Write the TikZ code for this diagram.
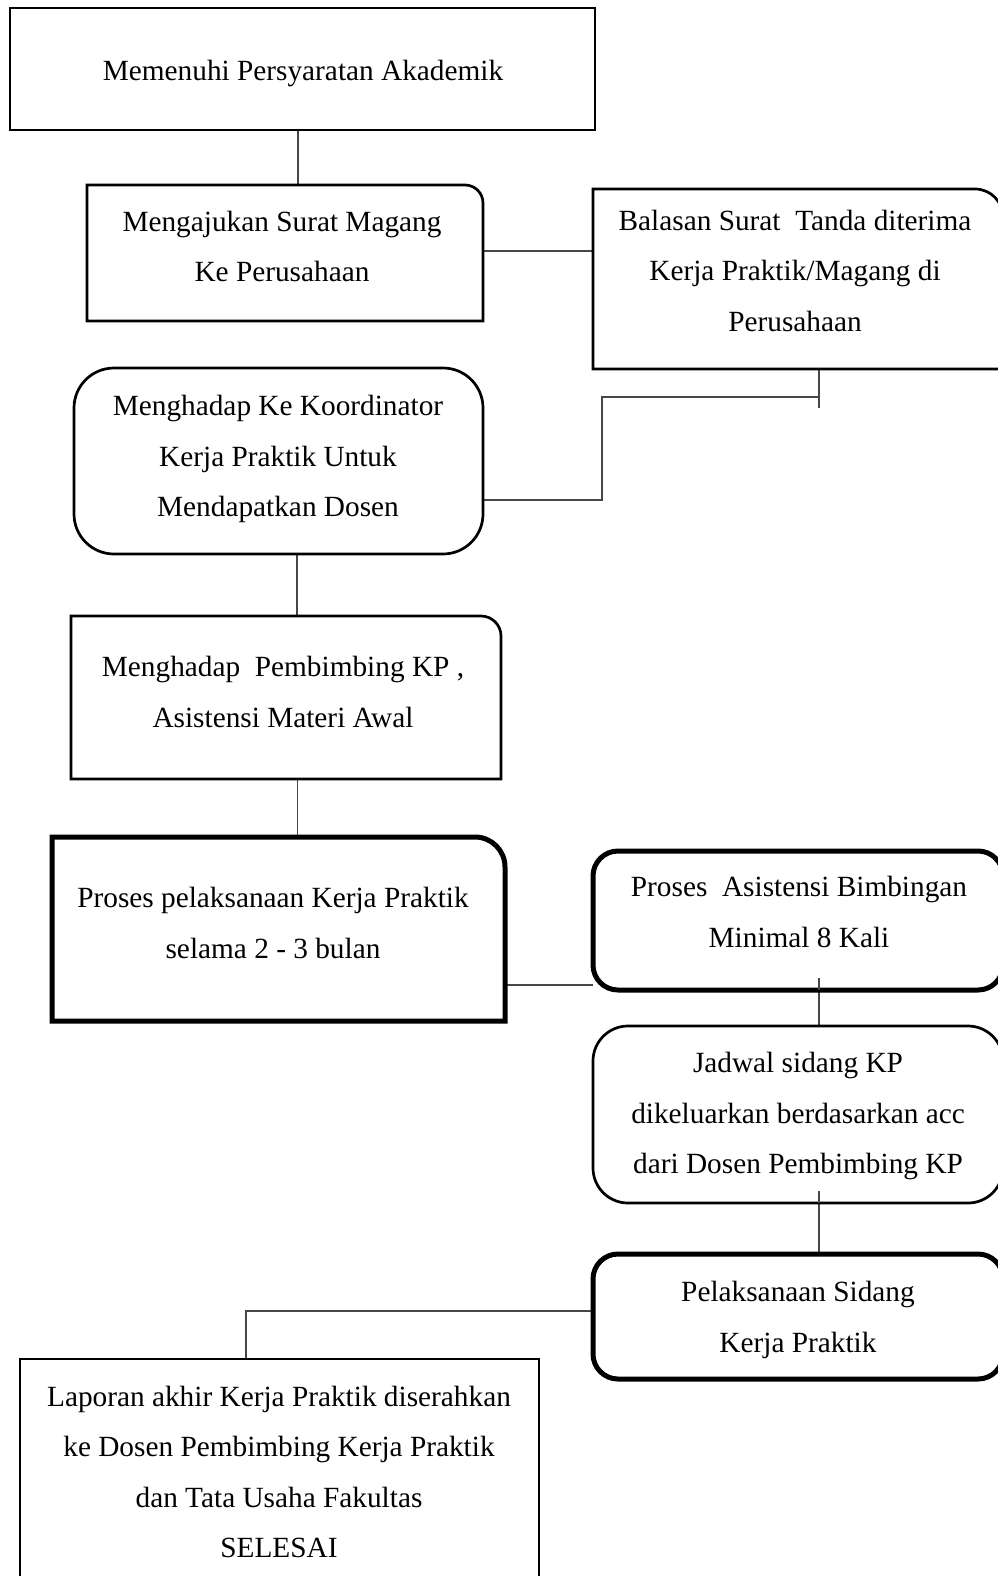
\documentclass[tikz,border=0pt]{standalone}
\usepackage{fontspec}
\setmainfont{Liberation Serif}
\usetikzlibrary{calc}
\begin{document}
\begin{tikzpicture}[x=1pt,y=-1pt,
  boxnode/.style={draw=none,rectangle,inner sep=0pt,outer sep=0pt},
  thinline/.style={line width=2.7pt,black,line join=miter},
  thickline/.style={line width=5pt,black,line join=miter},
  conn/.style={line width=1.6pt,black!72},
  txt/.style={inner sep=0pt,align=center,font=\fontsize{29.3}{50.5}\selectfont}]
\useasboundingbox (0,0) rectangle (998,1576);
\newcommand\TRbox[3]{\draw[#3] (#1.south west) -- (#1.north west) -- ([xshift=-#2pt]#1.north east) arc[start angle=90,end angle=0,radius=#2pt] -- (#1.south east) -- cycle;}
% boxes
\node[boxnode,minimum width=585pt,minimum height=122pt] (b1) at (302.5,69) {};
\node[boxnode,minimum width=396pt,minimum height=136pt] (b2) at (285,253) {};
\node[boxnode,minimum width=410pt,minimum height=180pt] (b3) at (798,279) {};
\node[boxnode,minimum width=409pt,minimum height=186pt] (b4) at (278.5,461) {};
\node[boxnode,minimum width=430pt,minimum height=163pt] (b5) at (286,697.5) {};
\node[boxnode,minimum width=453pt,minimum height=184pt] (b6) at (278.5,929) {};
\node[boxnode,minimum width=410pt,minimum height=139pt] (b7) at (798,920.5) {};
\node[boxnode,minimum width=410pt,minimum height=177pt] (b8) at (798,1114.5) {};
\node[boxnode,minimum width=410pt,minimum height=125pt] (b9) at (798,1316.5) {};
\node[boxnode,minimum width=519pt,minimum height=241pt] (b10) at (279.5,1479.5) {};
% connectors
\draw[conn] ([xshift=-4.5pt]b1.south) -- ([xshift=-4.5pt]b1.south |- b2.north);
\draw[conn] ([yshift=2pt]b2.east) -- ([yshift=2pt]b2.east -| b3.west);
\coordinate (j1) at (819,408);
\coordinate (j2) at (602,397);
\draw[conn] (b3.south -| j1) -- (j1);
\draw[conn] ([yshift=-39pt]b4.east) -| (j2) -- (j2 -| j1);
\draw[conn] ([xshift=18.5pt]b4.south) -- ([xshift=18.5pt]b4.south |- b5.north);
\draw[conn] ([xshift=11.5pt]b5.south) -- ([xshift=11.5pt]b5.south |- b6.north);
\draw[conn] ([yshift=-56pt]b6.east) -- ([yshift=-56pt]b6.east -| b7.west);
\draw[conn] ([xshift=21pt,yshift=12pt]b7.south) -- ([xshift=21pt]b8.north);
\draw[conn] ([xshift=21pt,yshift=12pt]b8.south) -- ([xshift=21pt]b9.north);
\draw[conn] ([yshift=5.5pt]b9.west) -| ([xshift=-33.5pt]b10.north);
% outlines
\draw[thinline,fill=white] (b1.south west) rectangle (b1.north east);
\TRbox{b2}{18}{thinline,fill=white}
\TRbox{b3}{28}{thinline,fill=white}
\draw[thinline,fill=white,rounded corners=40pt] (b4.south west) rectangle (b4.north east);
\TRbox{b5}{20}{thinline,fill=white}
\TRbox{b6}{30}{thickline,fill=white}
\draw[thickline,rounded corners=25pt] (b7.south west) rectangle (b7.north east);
\draw[thinline,rounded corners=35pt] (b8.south west) rectangle (b8.north east);
\draw[thickline,rounded corners=25pt] (b9.south west) rectangle (b9.north east);
\draw[thinline,fill=white] (b10.south west) rectangle (b10.north east);
% the two lines that start inside the boxes are redrawn on top
\draw[conn] ([xshift=21pt,yshift=12pt]b7.south) -- ([xshift=21pt]b7.south);
\draw[conn] ([xshift=21pt,yshift=12pt]b8.south) -- ([xshift=21pt]b8.south);
% texts
\node[txt] (t1) at (303,73) {Memenuhi Persyaratan Akademik};
\node[txt] (t2) at (282,246.5) {Mengajukan Surat Magang\\Ke Perusahaan};
\node[txt] (t3) at (795,270.5) {Balasan Surat\ \ Tanda diterima\\Kerja Praktik/Magang di\\Perusahaan};
\node[txt] (t4) at (278,459) {Menghadap Ke Koordinator\\Kerja Praktik Untuk\\Mendapatkan Dosen};
\node[txt] (t5) at (283,692) {Menghadap\ \ Pembimbing KP ,\\Asistensi Materi Awal};
\node[txt] (t6) at (273,923) {Proses pelaksanaan Kerja Praktik\\selama 2 - 3 bulan};
\node[txt] (t7) at (799,912) {Proses\ \ Asistensi Bimbingan\\Minimal 8 Kali};
\node[txt] (t8) at (798,1116) {Jadwal sidang KP\\dikeluarkan berdasarkan acc\\dari Dosen Pembimbing KP};
\node[txt] (t9) at (798,1320) {Pelaksanaan Sidang\\Kerja Praktik};
\node[txt] (t10) at (279,1472) {Laporan akhir Kerja Praktik diserahkan\\ke Dosen Pembimbing Kerja Praktik\\dan Tata Usaha Fakultas\\SELESAI};
\end{tikzpicture}
\end{document}
